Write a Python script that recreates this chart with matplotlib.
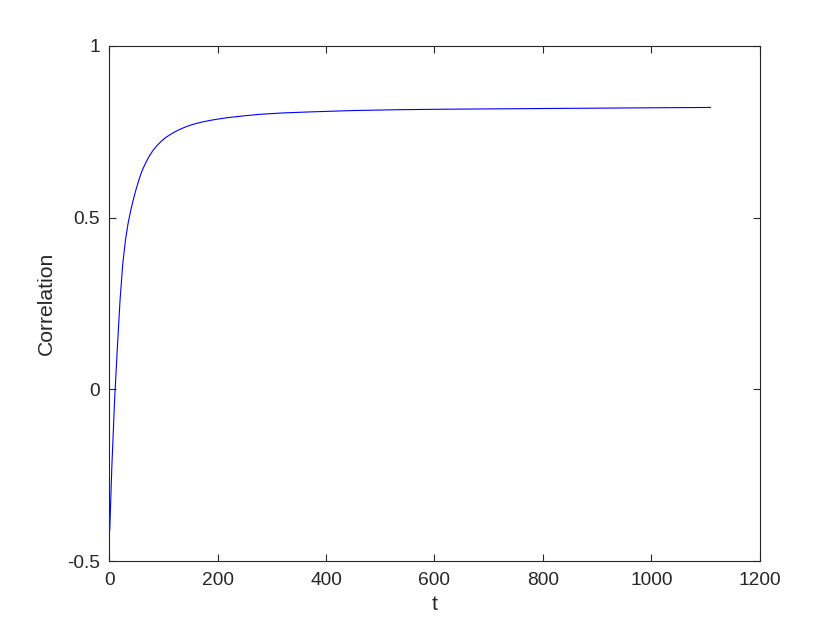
import matplotlib
matplotlib.use('Agg')
import matplotlib.pyplot as plt

# values
t = [1, 5, 10, 15, 20, 25, 30, 35, 40, 45, 50, 55, 60, 65, 70, 75, 80, 87,
     95, 103, 112, 120, 130, 142, 155, 170, 185, 200, 217, 245, 278, 320,
     370, 410, 450, 537, 630, 721, 810, 906, 1000, 1109]
correlation = [-0.41, -0.22, -0.03, 0.12, 0.26, 0.365, 0.435, 0.485, 0.523,
               0.556, 0.585, 0.611, 0.634, 0.652, 0.668, 0.682, 0.694, 0.708,
               0.721, 0.732, 0.7415, 0.749, 0.757, 0.765, 0.772, 0.778, 0.783,
               0.787, 0.791, 0.796, 0.801, 0.805, 0.808, 0.810, 0.812, 0.8145,
               0.816, 0.817, 0.818, 0.819, 0.820, 0.821]

x_ticks = [0, 200, 400, 600, 800, 1000, 1200]
y_ticks = [-0.5, 0, 0.5, 1]
y_tick_labels = ['-0.5', '0', '0.5', '1']

plt.rcParams['font.family'] = ['Liberation Sans', 'DejaVu Sans']
plt.rcParams['axes.unicode_minus'] = False

text_color = (0.15, 0.15, 0.15)

fig = plt.figure(figsize=(8.4, 6.3), dpi=100)
ax = fig.add_axes([0.130, 0.1095, 0.7745, 0.8175])

ax.plot(t, correlation, color=(0, 0, 1), linewidth=0.8)

ax.set_xlim(0, 1200)
ax.set_ylim(-0.5, 1)
ax.set_xticks(x_ticks)
ax.set_xticklabels([str(v) for v in x_ticks])
ax.set_yticks(y_ticks)
ax.set_yticklabels(y_tick_labels)

ax.tick_params(direction='in', length=5, width=0.8, top=True, right=True,
               labelsize=13.8, colors=text_color)
ax.tick_params(axis='x', pad=8)
ax.tick_params(axis='y', pad=6.5)
for spine in ax.spines.values():
    spine.set_color(text_color)
    spine.set_linewidth(0.8)

ax.set_xlabel('t', fontsize=15.2, color=text_color, labelpad=4)
ax.set_ylabel('Correlation', fontsize=15.2, color=text_color, labelpad=8)

fig.savefig('out.png', dpi=100, facecolor='white')
